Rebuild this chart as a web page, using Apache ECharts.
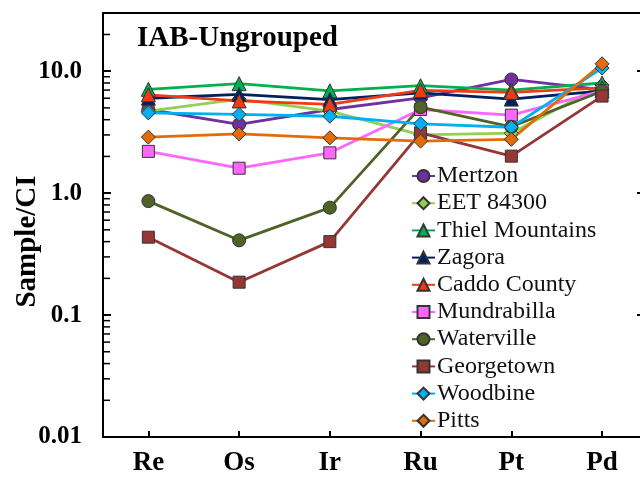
<!DOCTYPE html>
<html>
<head>
<meta charset="utf-8">
<script src="https://cdn.jsdelivr.net/npm/echarts@6/dist/echarts.min.js"></script>
<style>html,body{margin:0;padding:0;background:#fff;}#c{width:640px;height:486px;}</style>
</head>
<body>
<div id="c"></div>
<script>
const categories = ['Re', 'Os', 'Ir', 'Ru', 'Pt', 'Pd'];
const yTickLabels = ['0.01', '0.1', '1.0', '10.0'];
const minorTicks = [0.02,0.03,0.04,0.05,0.06,0.07,0.08,0.09,0.2,0.3,0.4,0.5,0.6,0.7,0.8,0.9,2,3,4,5,6,7,8,9,20];

const mertzon     = [4.85, 3.66, 4.85, 6.04, 8.55, 7.05];
const eet84300    = [4.7, 5.9, 4.7, 3.0, 3.1, 7.7];
const thiel       = [7.1, 7.9, 6.9, 7.6, 7.0, 8.0];
const zagora      = [6.0, 6.45, 5.85, 6.65, 5.9, 6.9];
const caddo       = [6.4, 5.7, 5.35, 6.95, 6.7, 7.3];
const mundrabilla = [2.2, 1.6, 2.14, 4.85, 4.36, 6.9];
const waterville  = [0.86, 0.41, 0.76, 5.07, 3.5, 6.85];
const georgetown  = [0.435, 0.186, 0.40, 3.12, 2.01, 6.25];
const woodbine    = [4.55, 4.42, 4.27, 3.7, 3.47, 10.6];
const pitts       = [2.88, 3.06, 2.84, 2.67, 2.76, 11.5];

const seriesDefs = [
  {name: 'Mertzon', data: mertzon, color: '#7030A0', symbol: 'circle', size: 13},
  {name: 'EET 84300', data: eet84300, color: '#92D050', symbol: 'diamond', size: 14},
  {name: 'Thiel Mountains', data: thiel, color: '#00B050', symbol: 'triangle', size: 14},
  {name: 'Zagora', data: zagora, color: '#002060', symbol: 'triangle', size: 14},
  {name: 'Caddo County', data: caddo, color: '#F03A12', symbol: 'triangle', size: 14},
  {name: 'Mundrabilla', data: mundrabilla, color: '#FF66FF', symbol: 'rect', size: 12},
  {name: 'Waterville', data: waterville, color: '#4F6228', symbol: 'circle', size: 13},
  {name: 'Georgetown', data: georgetown, color: '#953735', symbol: 'rect', size: 12},
  {name: 'Woodbine', data: woodbine, color: '#00B0F0', symbol: 'diamond', size: 14},
  {name: 'Pitts', data: pitts, color: '#E36C09', symbol: 'diamond', size: 14}
];

const FONT = "'Liberation Serif', 'Times New Roman', serif";
const X_MIN = -0.5, X_MAX = 5.44, Y_MIN = 0.01, Y_MAX = 30;

const series = seriesDefs.map(d => ({
  name: d.name,
  type: 'line',
  data: d.data.map((v, i) => [i, v]),
  symbol: d.symbol,
  symbolSize: d.size,
  lineStyle: {color: d.color, width: 2.8},
  itemStyle: {color: d.color, borderColor: '#333', borderWidth: 1},
  emphasis: {disabled: true},
  animation: false
}));

series.push({
  name: 'minorTicks',
  type: 'custom',
  silent: true,
  animation: false,
  data: minorTicks.map(v => [0, v]),
  renderItem: function (params, api) {
    const y = api.coord([0, api.value(1)])[1];
    const x = params.coordSys.x;
    return {type: 'line', shape: {x1: x, y1: y, x2: x + 7, y2: y}, style: {stroke: '#000', lineWidth: 1.5}};
  }
});

const chart = echarts.init(document.getElementById('c'), null, {renderer: 'canvas'});
chart.setOption({
  backgroundColor: '#fff',
  animation: false,
  title: {
    text: 'IAB-Ungrouped', left: 132, top: 19,
    textStyle: {fontFamily: FONT, fontWeight: 'bold', fontSize: 29, color: '#000'}
  },
  legend: {
    data: seriesDefs.map(d => d.name),
    orient: 'vertical', left: 411, top: 164, padding: 0,
    itemWidth: 23, itemHeight: 15, itemGap: 3.2,
    textStyle: {fontFamily: FONT, fontSize: 24, color: '#111', lineHeight: 24, padding: [0,0,0,-3]},
    selectedMode: false
  },
  grid: {left: 103, top: 13, right: -2, bottom: 49, containLabel: false, outerBoundsMode: 'none'},
  xAxis: [{
    type: 'value', min: X_MIN, max: X_MAX, position: 'bottom',
    axisLine: {show: true, onZero: false, lineStyle: {color: '#000', width: 2}},
    axisTick: {show: true, inside: true, length: 6, lineStyle: {color: '#000', width: 2}, customValues: [0,1,2,3,4,5]},
    axisLabel: {
      customValues: [0,1,2,3,4,5], margin: 13,
      formatter: v => categories[Math.round(v)],
      fontFamily: FONT, fontWeight: 'bold', fontSize: 27, color: '#000'
    },
    splitLine: {show: false}
  }, {
    type: 'value', min: X_MIN, max: X_MAX, position: 'top',
    axisLine: {show: true, onZero: false, lineStyle: {color: '#000', width: 2}},
    axisTick: {show: false}, axisLabel: {show: false}, splitLine: {show: false}
  }],
  yAxis: [{
    type: 'log', logBase: 10, min: Y_MIN, max: Y_MAX, position: 'left',
    name: 'Sample/CI', nameLocation: 'middle', nameGap: 61, nameMoveOverlap: false,
    nameTextStyle: {fontFamily: FONT, fontWeight: 'bold', fontSize: 29, color: '#000', padding: [0, 33, 0, 0]},
    axisLine: {show: true, onZero: false, lineStyle: {color: '#000', width: 2}},
    axisTick: {show: true, inside: true, length: 8, lineStyle: {color: '#000', width: 2}},
    axisLabel: {
      margin: 21, fontFamily: FONT, fontWeight: 'bold', fontSize: 25, color: '#000',
      formatter: function (v) {
        const e = Math.round(Math.log10(v));
        if (Math.abs(Math.log10(v) - e) > 1e-6) return '';
        const idx = e + 2;
        return yTickLabels[idx] || '';
      }
    },
    splitLine: {show: false}
  }, {
    type: 'log', logBase: 10, min: Y_MIN, max: Y_MAX, position: 'right',
    axisLine: {show: true, onZero: false, lineStyle: {color: '#000', width: 2}},
    axisTick: {show: true, inside: true, length: 5, lineStyle: {color: '#000', width: 2}},
    axisLabel: {show: false}, splitLine: {show: false}
  }],
  series: series
});
</script>
</body>
</html>
